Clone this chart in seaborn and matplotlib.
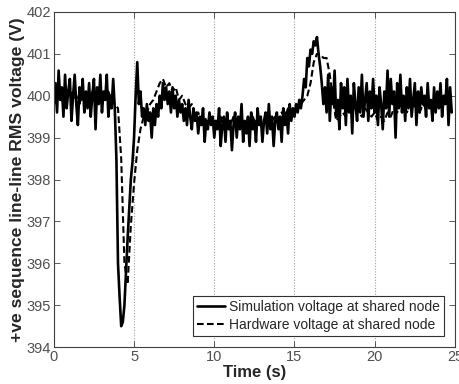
import numpy as np
import pandas as pd
import matplotlib
matplotlib.use("Agg")
import matplotlib.pyplot as plt
import seaborn as sns

# simulation voltage, sampled every 0.1 s from t = 0
sim_v = [
    399.8, 400.3, 399.6, 400.6, 399.9, 400.2, 399.5, 400.5, 399.7, 400.1,
    400.4, 399.4, 400.0, 400.5, 399.8, 399.3, 400.2, 399.9, 400.4, 399.6,
    400.1, 399.7, 400.3, 399.5, 400.0, 400.4, 399.2, 400.2, 399.8, 400.5,
    399.6, 400.1, 399.9, 400.5, 399.5, 400.0, 399.7, 400.4, 399.7, 398.5,
    396.0, 395.2, 394.5, 394.6, 395.0, 395.8, 396.6, 397.3, 398.0, 398.4,
    399.0, 400.0, 400.8, 399.8, 400.1, 399.5, 399.7, 399.3, 399.8, 399.4,
    399.6, 399.0, 399.7, 399.3, 399.8, 399.5, 400.0, 399.7, 400.3, 399.9,
    400.2, 399.8, 400.1, 399.6, 400.2, 399.7, 400.0, 399.5, 399.9, 399.6,
    399.8, 399.4, 399.7, 399.3, 399.9, 399.5, 399.2, 399.7, 399.4, 399.6,
    399.1, 399.5, 399.3, 399.7, 398.9, 399.4, 399.2, 399.6, 399.3, 399.5,
    399.0, 399.4, 399.2, 399.7, 398.8, 399.3, 399.5, 398.9, 399.6, 399.2,
    399.4, 398.7, 399.3, 399.6, 399.0, 399.5, 399.2, 399.8, 398.9, 399.4,
    399.1, 399.5, 398.8, 399.6, 399.2, 399.4, 398.9, 399.7, 399.3, 399.5,
    398.9, 399.4, 399.6, 399.1, 399.8, 399.2, 399.5, 398.8, 399.4, 399.6,
    399.2, 399.5, 398.9, 399.7, 399.3, 399.6, 399.1, 399.8, 399.4, 399.7,
    399.5, 399.8, 399.6, 399.9, 399.7, 400.0, 400.4, 400.2, 400.9, 400.7,
    401.1, 401.0, 401.3, 401.2, 401.4, 401.0, 400.7, 400.3, 399.8, 400.2,
    399.6, 400.5, 399.4, 400.2, 399.8, 400.6, 399.5, 399.9, 399.2, 400.3,
    399.7, 400.2, 399.3, 400.4, 399.6, 400.0, 399.1, 400.3, 399.8, 399.4,
    400.2, 399.6, 400.5, 399.5, 399.9, 400.3, 399.4, 400.1, 399.7, 400.4,
    399.6, 400.0, 399.3, 400.2, 399.8, 399.2, 400.1, 399.7, 400.6, 399.5,
    400.4, 399.8, 400.1, 399.0, 400.3, 399.7, 400.5, 399.6, 400.0, 399.4,
    400.2, 399.7, 400.4, 399.5, 399.9, 400.3, 399.3, 400.1, 399.6, 400.2,
    399.8, 400.0, 399.5, 400.3, 399.7, 399.9, 399.4, 400.2, 399.6, 400.1,
    399.7, 400.3, 399.5, 400.0, 399.8, 400.4, 399.3, 400.2, 399.6,
]

# hardware voltage, sampled every 0.2 s from t = 0
hw_v = [
    400.0, 399.9, 400.1, 399.8, 400.0, 400.2, 399.9, 400.0, 399.8, 400.1,
    400.0, 399.9, 400.1, 400.0, 399.8, 400.0, 399.9, 400.1, 399.9, 399.8,
    399.7, 398.5, 396.0, 395.5, 396.9, 397.9, 398.7, 399.2, 399.5, 399.6,
    399.8, 399.9, 400.1, 400.3, 400.4, 400.2, 400.3, 400.1, 400.2, 399.9,
    400.0, 399.8, 399.7, 399.8, 399.5, 399.6, 399.4, 399.5, 399.3, 399.4,
    399.4, 399.3, 399.5, 399.2, 399.4, 399.3, 399.5, 399.2, 399.4, 399.3,
    399.4, 399.2, 399.5, 399.3, 399.4, 399.2, 399.5, 399.3, 399.4, 399.5,
    399.4, 399.6, 399.5, 399.7, 399.5, 399.6, 399.7, 399.8, 399.9, 400.0,
    400.3, 400.8, 401.0, 401.0, 400.9, 400.9, 400.5, 399.9, 399.4, 399.5,
    399.6, 399.5, 399.7, 399.6, 399.8, 399.6, 399.5, 399.7, 399.6, 399.5,
    399.6, 399.4, 399.5, 399.4, 399.6, 399.5, 399.7, 399.6, 399.8, 399.7,
    399.6, 399.8, 399.7, 399.9, 399.6, 399.8, 399.7, 399.9, 399.8, 399.7,
    399.8, 399.7, 399.9, 399.8, 399.8,
]

sim_t = np.round(np.arange(len(sim_v)) * 0.1, 2)
hw_t = np.round(np.arange(len(hw_v)) * 0.2, 2)

sim_df = pd.DataFrame({"t": sim_t, "v": sim_v})
hw_df = pd.DataFrame({"t": hw_t, "v": hw_v})

sns.set_style("ticks")
plt.rcParams["font.family"] = ["Liberation Sans", "DejaVu Sans"]

fig = plt.figure(figsize=(4.6, 3.84), dpi=100)
ax = fig.add_axes([0.117, 0.096, 0.872, 0.873])

sns.lineplot(data=sim_df, x="t", y="v", ax=ax, color="black", linewidth=1.9,
             label="Simulation voltage at shared node")
sns.lineplot(data=hw_df, x="t", y="v", ax=ax, color="black", linewidth=1.5,
             linestyle=(0, (3.2, 1.6)), label="Hardware voltage at shared node")

ax.set_xlim(0, 25)
ax.set_ylim(394, 402)
ax.set_xticks([0, 5, 10, 15, 20, 25])
ax.set_yticks([394, 395, 396, 397, 398, 399, 400, 401, 402])
ax.xaxis.grid(True, linestyle=(0, (1, 1.5)), color="#a0a0a0", linewidth=0.8)
ax.yaxis.grid(False)
ax.tick_params(direction="in", top=True, right=True, length=4, width=0.6,
               colors="#404040", labelsize=10.5, labelcolor="#505050", pad=2)
for s in ax.spines.values():
    s.set_color("#404040")
    s.set_linewidth(0.8)

ax.set_xlabel("Time (s)", fontsize=12, fontweight="bold", labelpad=1)
ax.set_ylabel("+ve sequence line-line RMS voltage (V)", fontsize=12.6,
              fontweight="bold", labelpad=1)

leg = ax.legend(loc="lower right", fontsize=10, frameon=True, fancybox=False,
                edgecolor="#303030", framealpha=1, borderaxespad=0.8,
                handlelength=2.0, handletextpad=0.3, borderpad=0.3,
                labelspacing=0.3)
leg.get_frame().set_linewidth(0.8)

fig.savefig("out.png", dpi=100)
